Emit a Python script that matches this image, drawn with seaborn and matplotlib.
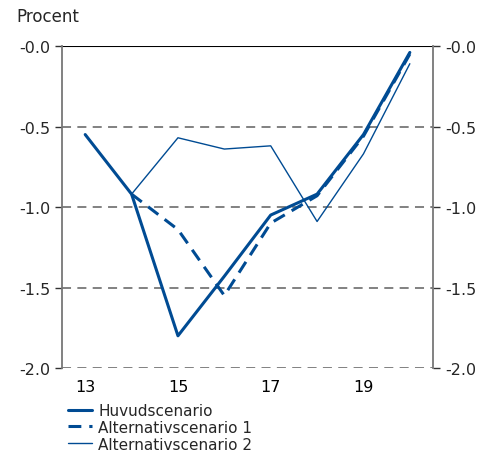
import pandas as pd
import matplotlib.pyplot as plt
import numpy as np
import seaborn as sns
from matplotlib.ticker import FixedLocator, FuncFormatter

# Data
years = [13, 14, 15, 16, 17, 18, 19, 20]
huvud = [-0.55, -0.92, -1.80, -1.43, -1.05, -0.92, -0.55, -0.04]
alt1 = [None, -0.92, -1.14, -1.55, -1.10, -0.93, -0.56, -0.05]
alt2 = [None, -0.92, -0.57, -0.64, -0.62, -1.09, -0.67, -0.11]
series_names = ['Huvudscenario', 'Alternativscenario 1', 'Alternativscenario 2']

rows = []
for name, vals in zip(series_names, [huvud, alt1, alt2]):
    for y, v in zip(years, vals):
        if v is not None:
            rows.append({'year': y, 'value': v, 'serie': name})
df = pd.DataFrame(rows)

sns.set_style('white')
plt.rcParams['font.family'] = ['DejaVu Sans']

blue = '#004B93'
fig = plt.figure(figsize=(4.86, 4.52), dpi=100)
ax = fig.add_axes([0.1276, 0.1836, 0.7634, 0.7124])

sns.lineplot(data=df, x='year', y='value', hue='serie', style='serie',
             size='serie', sizes={series_names[0]: 2.2, series_names[1]: 2.2, series_names[2]: 1.0},
             palette={n: blue for n in series_names},
             dashes={series_names[0]: '', series_names[1]: (4.2, 2.6), series_names[2]: ''},
             ax=ax, legend=True)

ax.set_xlim(12.5, 20.5)
ax.set_ylim(-2.0, 0.0)

# gridlines
for yv in [-0.5, -1.0, -1.5, -2.0]:
    ax.axhline(yv, color='#777777', linestyle=(0, (5, 3.5)), linewidth=1.3, zorder=0)
ax.axhline(0.0, color='black', linewidth=1.5, zorder=1)

# x axis: ticks at boundaries, labels at centres
ax.xaxis.set_major_locator(FixedLocator([13, 15, 17, 19]))
ax.xaxis.set_minor_locator(FixedLocator(np.arange(12.5, 20.6, 1)))
ax.tick_params(axis='x', which='major', length=0, labelsize=11.5, pad=8, colors='black')
ax.tick_params(axis='x', which='minor', length=5, width=1, color='#333333', direction='out')

ax.set_yticks([0.0, -0.5, -1.0, -1.5, -2.0])
ax.yaxis.set_major_formatter(FuncFormatter(lambda v, p: f'-{abs(v):.1f}'))
ax.tick_params(axis='y', which='major', length=5, width=1, color='#333333', direction='out',
               labelsize=11.5, left=True, right=True, labelleft=True, labelright=True)

for side in ['left', 'right']:
    ax.spines[side].set_color('#777777')
    ax.spines[side].set_linewidth(1.3)
ax.spines['top'].set_visible(False)
ax.spines['bottom'].set_visible(False)

ax.set_xlabel('')
ax.set_ylabel('')
fig.text(0.033, 0.962, 'Procent', fontsize=12, va='center', ha='left')

handles, labels = ax.get_legend_handles_labels()
ax.legend(handles, labels, loc='upper left', bbox_to_anchor=(0.127, 0.12),
          bbox_transform=fig.transFigure, frameon=False, fontsize=11,
          handlelength=1.6, handletextpad=0.4, labelspacing=0.12, borderaxespad=0)

fig.savefig('out.png', dpi=100)
